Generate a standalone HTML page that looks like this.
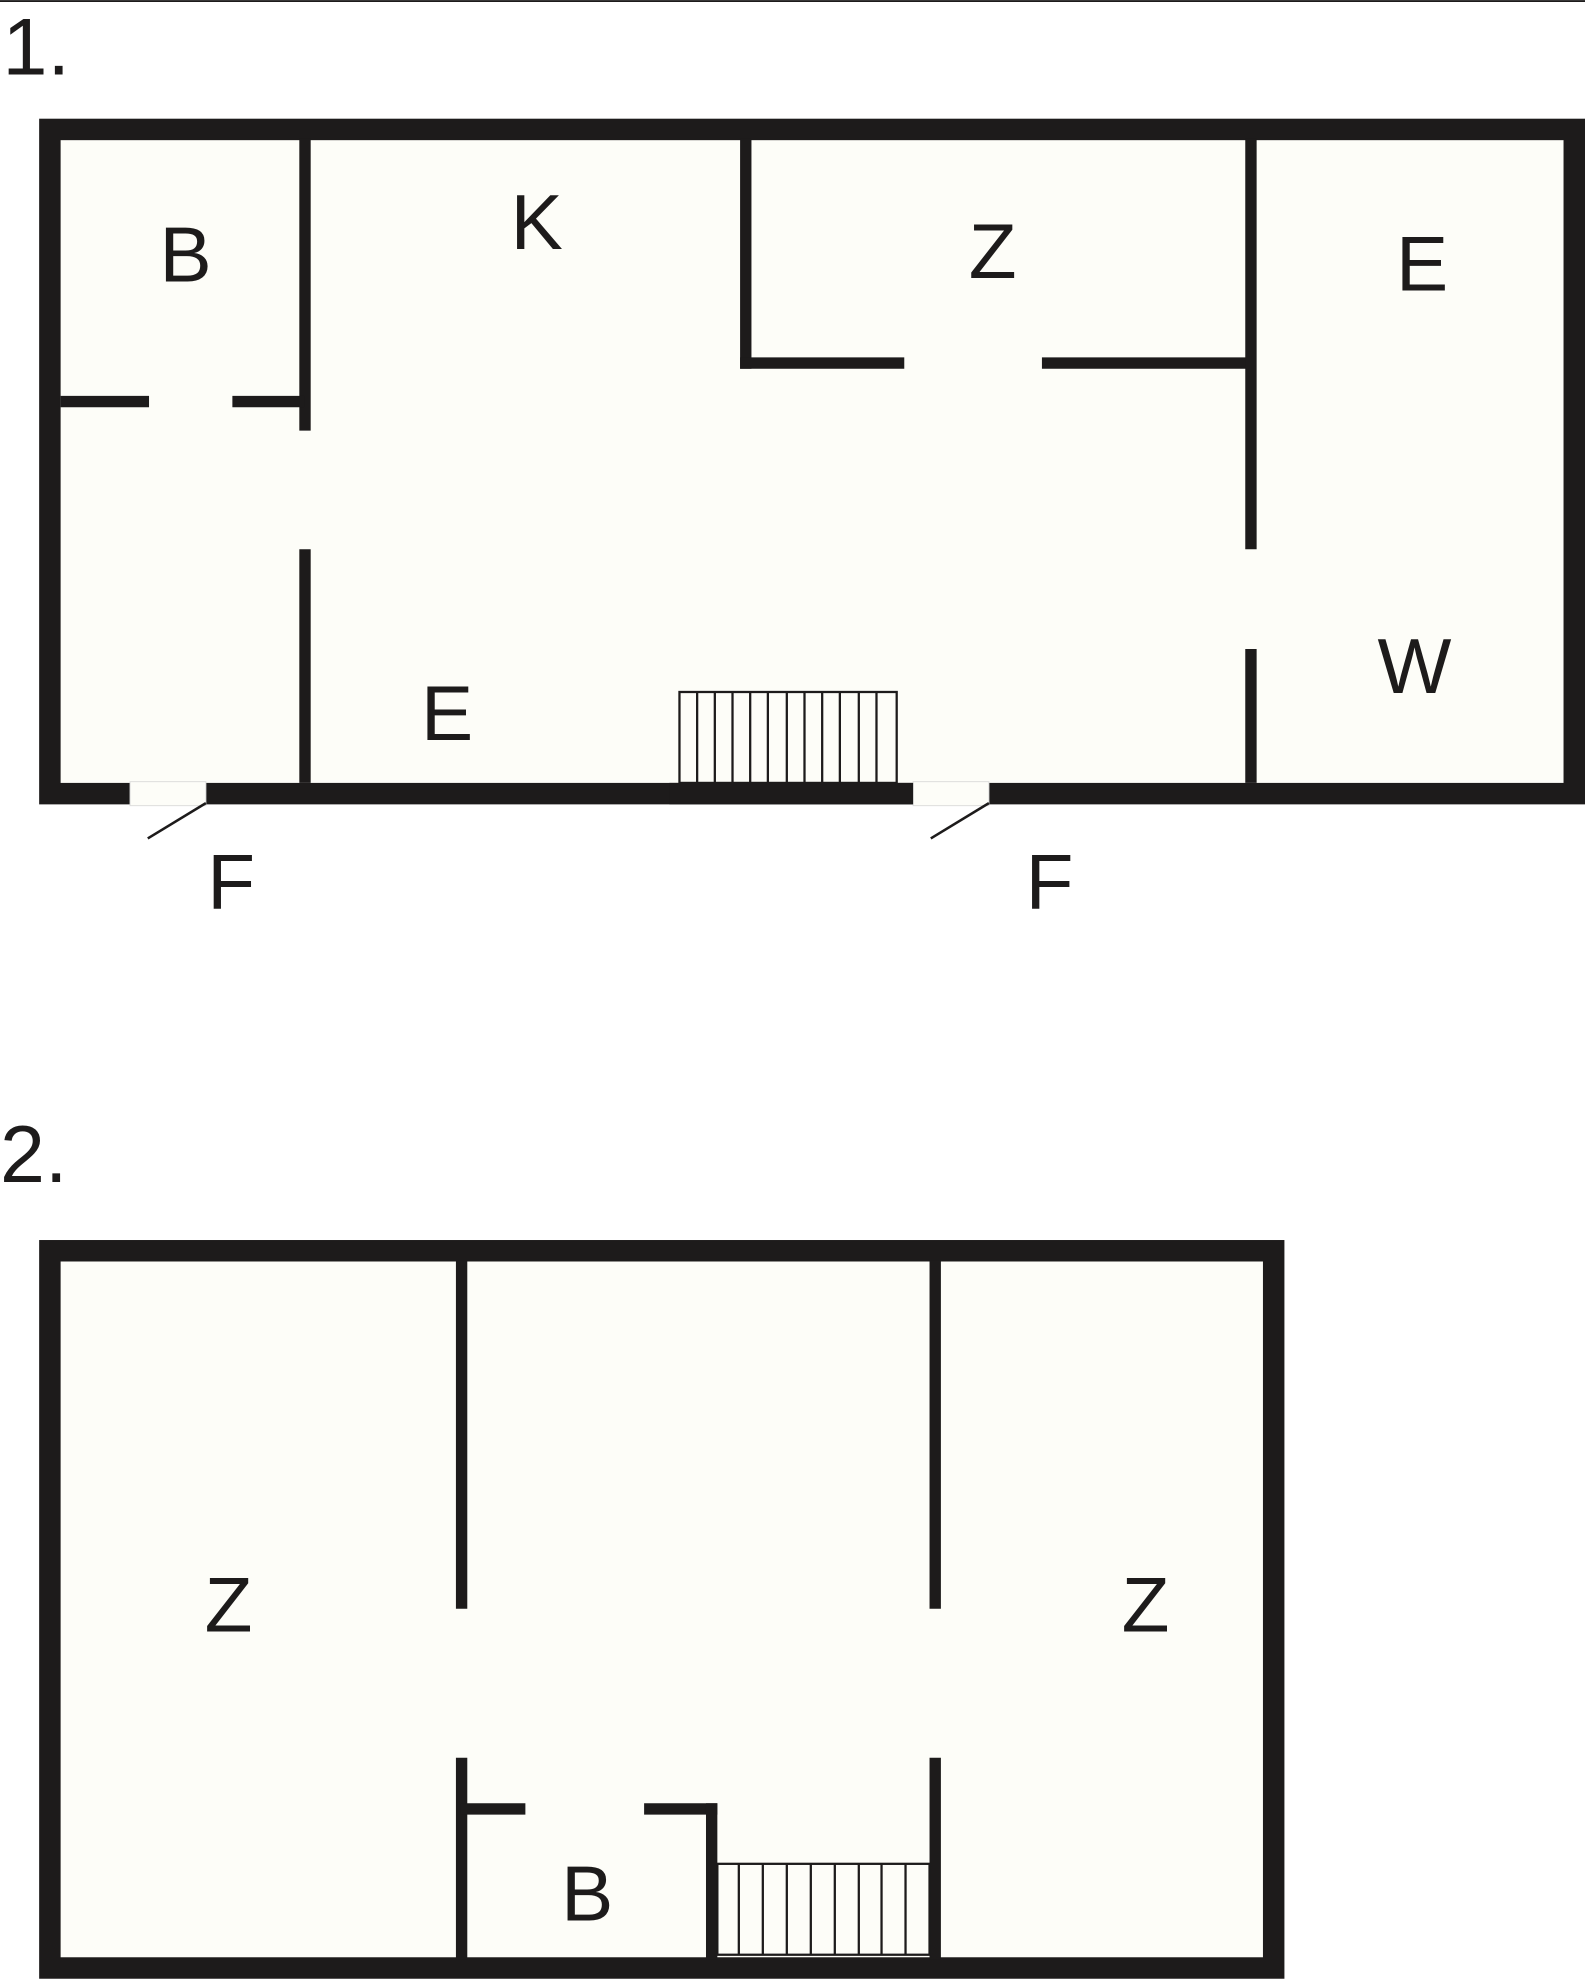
<!DOCTYPE html>
<html><head><meta charset="utf-8"><style>html,body{margin:0;padding:0;background:#fff}svg{display:block}text{font-family:"Liberation Sans",sans-serif;fill:#1d1b1b}</style></head>
<body>
<svg width="1585" height="1980" viewBox="0 0 1255 1568" preserveAspectRatio="none" xmlns="http://www.w3.org/2000/svg">
<line x1="0" y1="0.8" x2="1255" y2="0.8" stroke="#1d1b1b" stroke-width="1.5"/>
<text x="2" y="59" font-size="64">1.</text>
<text x="0" y="936" font-size="64">2.</text>
<g stroke="#1d1b1b" fill="none">
<rect x="39.5" y="102.5" width="1207" height="526" fill="#fdfdf8" stroke-width="17"/>
<rect x="103" y="619" width="60" height="19" fill="#fdfdf8" stroke="#ddd" stroke-width="0.8"/>
<rect x="723" y="619" width="60" height="19" fill="#fdfdf8" stroke="#ddd" stroke-width="0.8"/>
<g stroke-width="2"><line x1="163" y1="636" x2="117" y2="664"/><line x1="783" y1="636" x2="737" y2="664"/></g>
<g stroke-width="9">
<line x1="241.5" y1="110" x2="241.5" y2="341"/>
<line x1="48" y1="318" x2="118" y2="318"/>
<line x1="184" y1="318" x2="241" y2="318"/>
<line x1="241.5" y1="435" x2="241.5" y2="620"/>
<line x1="590.5" y1="110" x2="590.5" y2="292"/>
<line x1="586" y1="287.5" x2="716" y2="287.5"/>
<line x1="825" y1="287.5" x2="990" y2="287.5"/>
<line x1="990.5" y1="110" x2="990.5" y2="435"/>
<line x1="990.5" y1="514" x2="990.5" y2="620"/>
</g>
<g stroke-width="1.8">
<rect x="538" y="548" width="172" height="72" fill="#fdfdf8"/>
<path d="M552 548V620M566 548V620M580 548V620M594 548V620M608 548V620M623 548V620M637 548V620M651 548V620M665 548V620M680 548V620M694 548V620"/>
</g>
<line x1="530" y1="628.5" x2="723" y2="628.5" stroke-width="17"/>

<rect x="39.5" y="990.5" width="969" height="568" fill="#fdfdf8" stroke-width="17"/>
<g stroke-width="9">
<line x1="365.5" y1="998" x2="365.5" y2="1274"/>
<line x1="740.5" y1="998" x2="740.5" y2="1274"/>
<line x1="365.5" y1="1392" x2="365.5" y2="1552"/>
<line x1="740.5" y1="1392" x2="740.5" y2="1552"/>
<line x1="365" y1="1432.5" x2="416" y2="1432.5"/>
<line x1="510" y1="1432.5" x2="568" y2="1432.5"/>
<line x1="563.5" y1="1428" x2="563.5" y2="1552"/>
</g>
<g stroke-width="1.8">
<rect x="568" y="1476" width="168" height="72" fill="#fdfdf8"/>
<path d="M585 1476V1548M604 1476V1548M623 1476V1548M642 1476V1548M661 1476V1548M680 1476V1548M698 1476V1548M717 1476V1548"/>
</g>
</g>
<g font-size="62" text-anchor="middle">
<text x="147" y="223">B</text>
<text x="425" y="197">K</text>
<text x="786" y="220">Z</text>
<text x="1126" y="230">E</text>
<text x="354" y="586">E</text>
<text x="1120" y="549">W</text>
<text x="183" y="720">F</text>
<text x="831" y="720">F</text>
<text x="181" y="1292">Z</text>
<text x="907" y="1292">Z</text>
<text x="465" y="1521">B</text>
</g>
</svg>
</body></html>
